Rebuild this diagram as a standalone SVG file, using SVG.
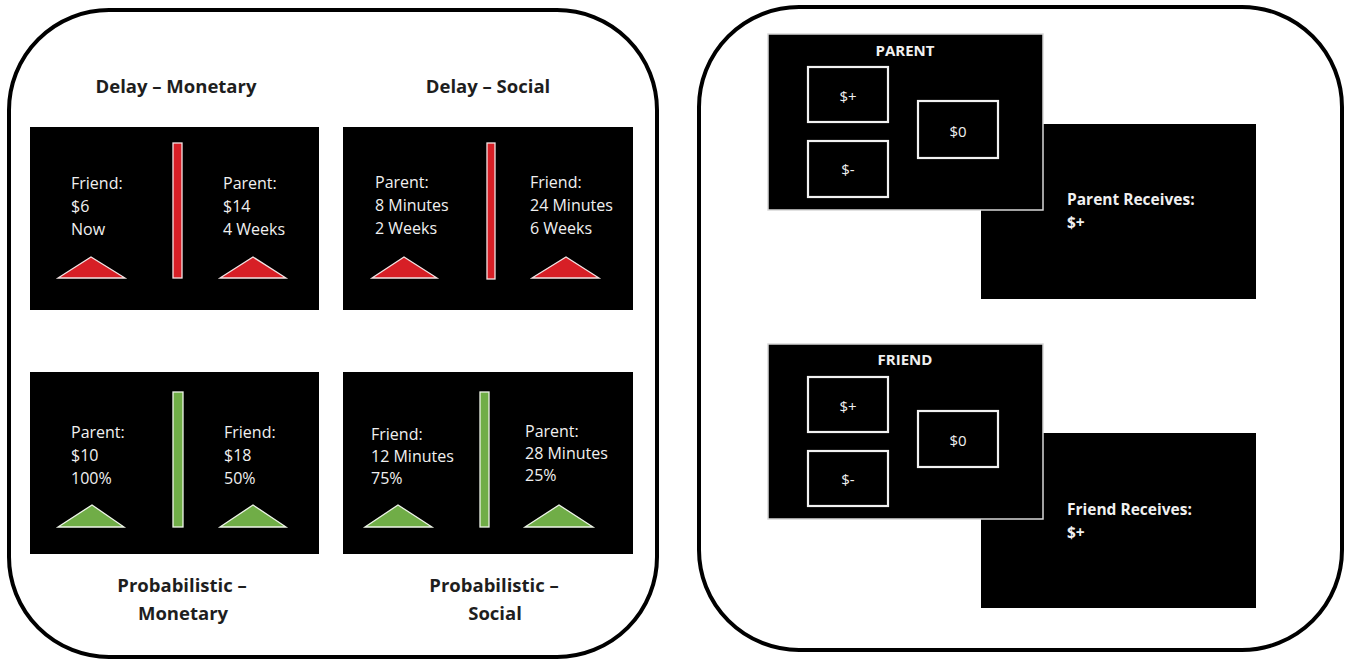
<svg xmlns="http://www.w3.org/2000/svg" width="1351" height="663" viewBox="0 0 1351 663">
  <style>
    .panel { fill: #ffffff; stroke: #000000; stroke-width: 4; }
    .card { fill: #000000; }
    .front { fill: #000000; stroke: #d8d8d8; stroke-width: 1.5; }
    .opt { fill: none; stroke: #f2f2f2; stroke-width: 2.2; }
    .red { fill: #d71f26; stroke: #f4e4e4; stroke-width: 1.3; }
    .green { fill: #70ad47; stroke: #eef5e8; stroke-width: 1.3; }
    .head { font-family: "Open Sans", "Liberation Sans", sans-serif; font-weight: bold; font-size: 18.5px; fill: #1e1e1e; text-anchor: middle; }
    .info { font-family: "Open Sans", "Liberation Sans", sans-serif; font-size: 16px; fill: #f0f0f0; }
    .lbl { font-family: "Open Sans", "Liberation Sans", sans-serif; font-size: 15px; fill: #f0f0f0; text-anchor: middle; }
    .title { font-family: "Open Sans", "Liberation Sans", sans-serif; font-weight: bold; font-size: 15px; fill: #f0f0f0; text-anchor: middle; }
    .recv { font-family: "Open Sans", "Liberation Sans", sans-serif; font-weight: bold; font-size: 15.5px; fill: #f0f0f0; }
  </style>

  <rect width="1351" height="663" fill="#ffffff"/>

  <!-- Left panel: choice tasks -->
  <g id="choice-panel">
    <rect class="panel" x="9" y="10" width="648" height="647" rx="100" ry="100"/>
  </g>

  <g id="delay-monetary">
    <text class="head" x="176" y="93">Delay – Monetary</text>
    <rect class="card" x="30" y="127" width="289" height="183"/>
    <rect class="red" x="173" y="143" width="9" height="135"/>
    <polygon class="red" points="58,278 91,257 125,278"/>
    <polygon class="red" points="220,278 253,257 286,278"/>
    <text class="info" x="71" y="189"><tspan x="71">Friend:</tspan><tspan x="71" dy="23">$6</tspan><tspan x="71" dy="23">Now</tspan></text>
    <text class="info" x="223" y="189"><tspan x="223">Parent:</tspan><tspan x="223" dy="23">$14</tspan><tspan x="223" dy="23">4 Weeks</tspan></text>
  </g>

  <g id="delay-social">
    <text class="head" x="488" y="93">Delay – Social</text>
    <rect class="card" x="343" y="127" width="290" height="183"/>
    <rect class="red" x="487" y="143" width="8" height="136"/>
    <polygon class="red" points="372,278 404,257 437,278"/>
    <polygon class="red" points="532,278 566,257 599,278"/>
    <text class="info" x="375" y="188"><tspan x="375">Parent:</tspan><tspan x="375" dy="23">8 Minutes</tspan><tspan x="375" dy="23">2 Weeks</tspan></text>
    <text class="info" x="530" y="188"><tspan x="530">Friend:</tspan><tspan x="530" dy="23">24 Minutes</tspan><tspan x="530" dy="23">6 Weeks</tspan></text>
  </g>

  <g id="probabilistic-monetary">
    <rect class="card" x="30" y="372" width="289" height="182"/>
    <rect class="green" x="173" y="392" width="10" height="135"/>
    <polygon class="green" points="58,527 92,505 124,527"/>
    <polygon class="green" points="220,527 253,505 286,527"/>
    <text class="info" x="71" y="438"><tspan x="71">Parent:</tspan><tspan x="71" dy="23">$10</tspan><tspan x="71" dy="23">100%</tspan></text>
    <text class="info" x="224" y="438"><tspan x="224">Friend:</tspan><tspan x="224" dy="23">$18</tspan><tspan x="224" dy="23">50%</tspan></text>
    <text class="head" x="182" y="592">Probabilistic  –</text>
    <text class="head" x="183" y="620">Monetary</text>
  </g>

  <g id="probabilistic-social">
    <rect class="card" x="343" y="372" width="290" height="182"/>
    <rect class="green" x="480" y="392" width="9" height="135"/>
    <polygon class="green" points="365,527 398,505 432,527"/>
    <polygon class="green" points="525,527 559,505 593,527"/>
    <text class="info" x="371" y="440"><tspan x="371">Friend:</tspan><tspan x="371" dy="22">12 Minutes</tspan><tspan x="371" dy="22">75%</tspan></text>
    <text class="info" x="525" y="437"><tspan x="525">Parent:</tspan><tspan x="525" dy="22">28 Minutes</tspan><tspan x="525" dy="22">25%</tspan></text>
    <text class="head" x="494" y="592">Probabilistic –</text>
    <text class="head" x="495" y="620">Social</text>
  </g>

  <!-- Right panel: outcome screens -->
  <g id="outcome-panel">
    <rect class="panel" x="699" y="7" width="643" height="643" rx="100" ry="100"/>
  </g>

  <g id="parent-receives">
    <rect class="card" x="981" y="124" width="275" height="175"/>
    <text class="recv" x="1067" y="205"><tspan x="1067">Parent Receives:</tspan><tspan x="1067" dy="23">$+</tspan></text>
  </g>

  <g id="parent-choice">
    <rect class="front" x="768" y="34" width="275" height="176"/>
    <text class="title" x="905" y="56">PARENT</text>
    <rect class="opt" x="808" y="67" width="80" height="55"/>
    <text class="lbl" x="848" y="102">$+</text>
    <rect class="opt" x="808" y="141" width="80" height="56"/>
    <text class="lbl" x="848" y="175">$-</text>
    <rect class="opt" x="918" y="101" width="80" height="57"/>
    <text class="lbl" x="958" y="137">$0</text>
  </g>

  <g id="friend-receives">
    <rect class="card" x="981" y="433" width="275" height="175"/>
    <text class="recv" x="1067" y="515"><tspan x="1067">Friend Receives:</tspan><tspan x="1067" dy="23">$+</tspan></text>
  </g>

  <g id="friend-choice">
    <rect class="front" x="768" y="344" width="275" height="175"/>
    <text class="title" x="905" y="365">FRIEND</text>
    <rect class="opt" x="808" y="377" width="80" height="55"/>
    <text class="lbl" x="848" y="412">$+</text>
    <rect class="opt" x="808" y="451" width="80" height="55"/>
    <text class="lbl" x="848" y="485">$-</text>
    <rect class="opt" x="918" y="411" width="80" height="56"/>
    <text class="lbl" x="958" y="446">$0</text>
  </g>

  <!-- No connectors in this figure -->
  <g id="connectors"></g>
</svg>
